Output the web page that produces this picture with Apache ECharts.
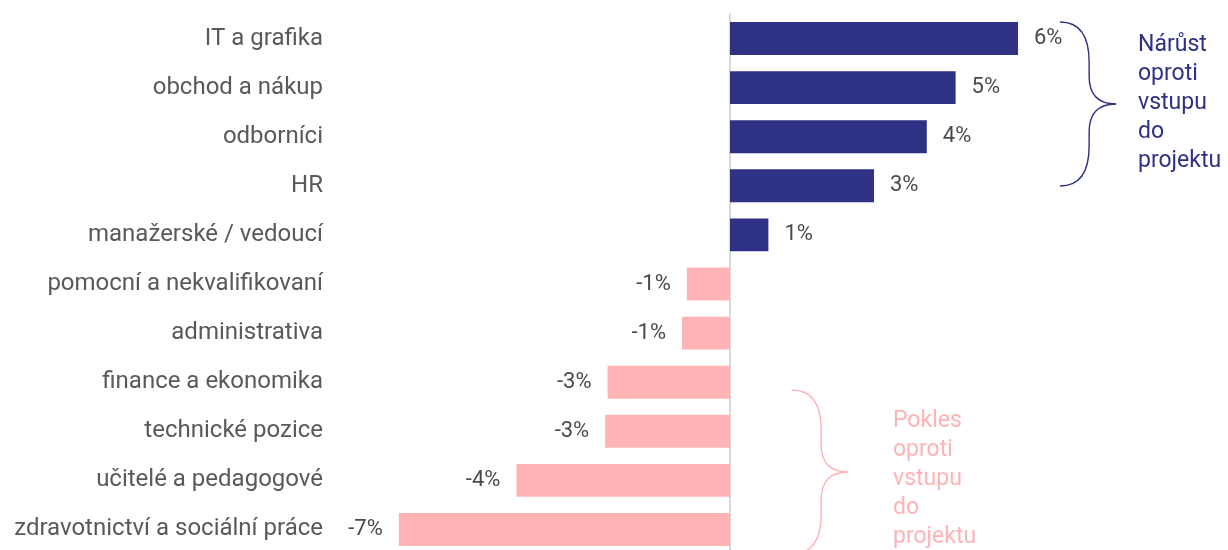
<!DOCTYPE html>
<html>
<head>
<meta charset="utf-8">
<script src="https://cdn.jsdelivr.net/npm/echarts@6/dist/echarts.min.js"></script>
<style>
  html, body { margin: 0; padding: 0; background: #fff; overflow: hidden; }
  #chart { width: 1228px; height: 560px; }
</style>
</head>
<body>
<div id="chart"></div>
<script>
// Change in share by occupation group (percentage points)
const categories = [
  'IT a grafika',
  'obchod a nákup',
  'odborníci',
  'HR',
  'manažerské / vedoucí',
  'pomocní a nekvalifikovaní',
  'administrativa',
  'finance a ekonomika',
  'technické pozice',
  'učitelé a pedagogové',
  'zdravotnictví a sociální práce'
];
const changes = [6.0, 4.7, 4.1, 3.0, 0.8, -0.9, -1.0, -2.55, -2.6, -4.45, -6.9];

const growthText = ['Nárůst', 'oproti', 'vstupu', 'do', 'projektu'];
const declineText = ['Pokles', 'oproti', 'vstupu', 'do', 'projektu'];

const BLUE = '#2e3184';
const PINK = '#ffb3b5';
const FONT = 'Roboto, "Noto Sans", sans-serif';

function pct(v) {
  const r = Math.round(Math.abs(v));
  return (v < 0 ? '-' : '') + r + '%';
}

// Curly brace built from cubic segments; (x, y) is the top end, h the full height
function brace(x, y, h, w, color) {
  const half = h / 2;
  const mid = w * 0.52;
  const style = { stroke: color, lineWidth: 1.4, fill: null };
  return [
    { type: 'bezierCurve', shape: { x1: x, y1: y, cpx1: x + mid * 0.7, cpy1: y, cpx2: x + mid, cpy2: y + 14, x2: x + mid, y2: y + 40 }, style },
    { type: 'line', shape: { x1: x + mid, y1: y + 40, x2: x + mid, y2: y + half - 28 }, style },
    { type: 'bezierCurve', shape: { x1: x + mid, y1: y + half - 28, cpx1: x + mid, cpy1: y + half - 8, cpx2: x + w - 16, cpy2: y + half, x2: x + w, y2: y + half }, style },
    { type: 'bezierCurve', shape: { x1: x + w, y1: y + half, cpx1: x + w - 16, cpy1: y + half, cpx2: x + mid, cpy2: y + half + 8, x2: x + mid, y2: y + half + 28 }, style },
    { type: 'line', shape: { x1: x + mid, y1: y + half + 28, x2: x + mid, y2: y + h - 40 }, style },
    { type: 'bezierCurve', shape: { x1: x + mid, y1: y + h - 40, cpx1: x + mid, cpy1: y + h - 14, cpx2: x + mid * 0.7, cpy2: y + h, x2: x, y2: y + h }, style }
  ];
}

const chart = echarts.init(document.getElementById('chart'), null, { renderer: 'canvas' });

chart.setOption({
  animation: false,
  backgroundColor: '#ffffff',
  grid: { left: 346, right: 162, top: 14, height: 540 },
  xAxis: {
    type: 'value',
    min: -8,
    max: 7,
    show: false
  },
  yAxis: {
    type: 'category',
    data: categories,
    inverse: true,
    axisTick: { show: false },
    axisLine: { show: true, onZero: true, lineStyle: { color: '#d9d9d9', width: 2 } },
    axisLabel: {
      color: '#595959',
      fontFamily: FONT,
      fontSize: 24,
      margin: 23,
      align: 'right'
    },
    position: 'left'
  },
  series: [{
    type: 'bar',
    barCategoryGap: '33%',
    data: changes.map(v => ({
      value: v,
      itemStyle: { color: v >= 0 ? BLUE : PINK },
      label: { position: v >= 0 ? 'right' : 'left' }
    })),
    label: {
      show: true,
      distance: 16,
      color: '#4a4a4a',
      fontFamily: FONT,
      fontSize: 22,
      formatter: p => pct(p.value)
    }
  }],
  graphic: [
    ...brace(1060, 22, 164, 56, BLUE),
    {
      type: 'text',
      x: 1138,
      y: 31,
      style: {
        text: growthText.join('\n'),
        fill: BLUE,
        font: '23px ' + FONT,
        lineHeight: 29
      }
    },
    ...brace(792, 390, 164, 56, PINK),
    {
      type: 'text',
      x: 893,
      y: 407,
      style: {
        text: declineText.join('\n'),
        fill: PINK,
        font: '23px ' + FONT,
        lineHeight: 29
      }
    }
  ]
});
</script>
</body>
</html>
